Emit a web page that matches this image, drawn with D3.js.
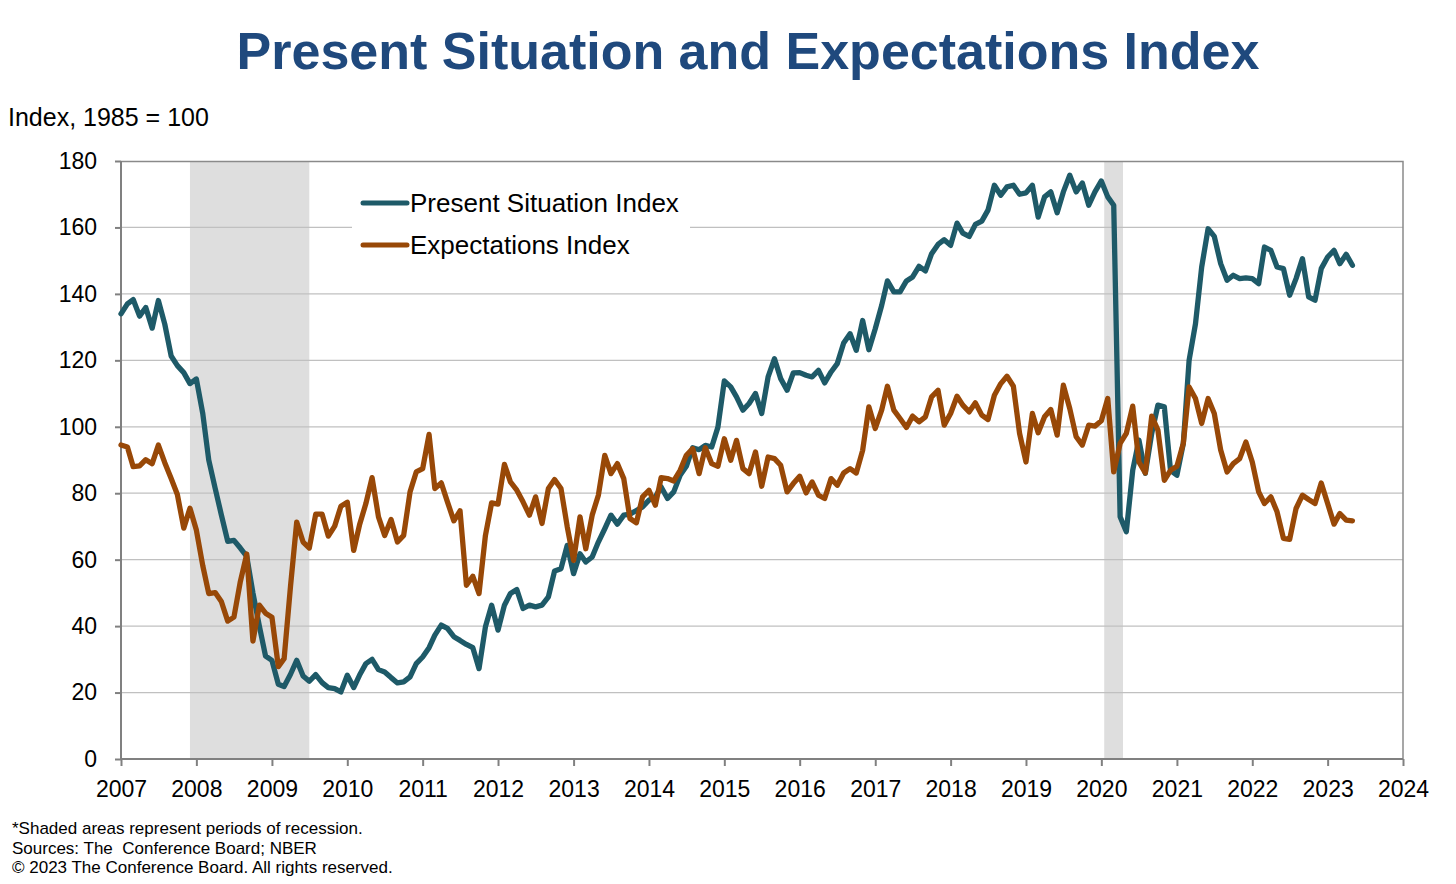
<!DOCTYPE html>
<html>
<head>
<meta charset="utf-8">
<script src="https://cdn.jsdelivr.net/npm/d3@7"></script>
<style>
  body { margin: 0; background: #fff; }
  svg text { font-family: "Liberation Sans", Arial, sans-serif; }
</style>
</head>
<body>
<div id="chart"></div>
<script>
/////////////////////////////////////////////////////////
////////////////////// The data /////////////////////////
/////////////////////////////////////////////////////////

var startMonth = "2007-01";   // first monthly observation

// Present Situation Index, monthly Jan 2007 - May 2023
var presentSituation = [
    134.0, 137.0, 138.3, 133.3, 135.9, 129.7, 138.0, 130.9, 121.3, 118.4, 116.3, 113.0, // 2007
    114.4, 104.0, 90.0, 81.5, 73.5, 65.5, 65.8, 63.5, 61.0, 50.0, 40.0, 31.0,            // 2008
    29.7, 22.5, 21.8, 25.5, 29.7, 25.0, 23.4, 25.4, 23.0, 21.5, 21.2, 20.2,              // 2009
    25.2, 21.5, 25.2, 28.7, 30.0, 26.9, 26.2, 24.5, 22.9, 23.2, 24.7, 28.7,              // 2010
    30.7, 33.5, 37.3, 40.3, 39.3, 36.8, 35.7, 34.5, 33.5, 27.2, 39.8, 46.3,              // 2011
    38.8, 46.3, 49.8, 51.0, 45.3, 46.3, 45.8, 46.3, 48.8, 56.6, 57.3, 64.3,              // 2012
    55.8, 61.8, 59.3, 60.8, 65.3, 69.3, 73.4, 70.7, 73.4, 73.7, 74.8, 75.9,              // 2013
    77.9, 78.9, 81.9, 78.4, 80.4, 85.4, 88.1, 93.7, 93.1, 94.4, 93.9, 99.9,              // 2014
    113.8, 112.0, 109.0, 105.0, 107.0, 110.0, 104.0, 115.0, 120.5, 114.5, 111.0, 116.2,  // 2015
    116.3, 115.5, 115.0, 117.0, 113.2, 116.5, 119.0, 125.2, 128.0, 123.0, 132.0, 123.2,  // 2016
    129.5, 136.5, 143.9, 140.6, 140.6, 143.9, 145.1, 148.3, 146.9, 152.1, 154.9, 156.3,  // 2017
    154.6, 161.3, 158.3, 157.3, 160.9, 161.9, 165.2, 172.7, 169.7, 172.2, 172.7, 170.0,  // 2018
    170.4, 172.7, 163.1, 169.2, 170.7, 164.4, 170.7, 175.7, 170.7, 173.4, 166.7, 170.7,  // 2019
    174.0, 169.2, 166.7, 72.9, 68.4, 86.9, 96.0, 86.0, 98.0, 106.5, 106.0, 86.9,         // 2020
    85.4, 95.0, 120.0, 131.0, 148.1, 159.6, 157.3, 149.1, 144.1, 145.6, 144.6, 144.8,    // 2021
    144.6, 143.1, 154.1, 153.1, 148.1, 147.6, 139.6, 144.6, 150.6, 139.1, 138.1, 147.6,  // 2022
    151.1, 153.1, 149.1, 151.9, 148.6                                                    // 2023
];

// Expectations Index, monthly Jan 2007 - May 2023
var expectations = [
    94.5, 93.9, 88.0, 88.2, 90.1, 88.9, 94.5, 89.2, 84.4, 79.6, 69.5, 75.5,              // 2007
    68.9, 58.2, 49.8, 50.1, 47.4, 41.5, 42.7, 53.4, 61.7, 35.5, 46.3, 43.9,              // 2008
    42.7, 27.8, 30.2, 52.0, 71.3, 65.3, 63.5, 73.7, 73.7, 67.1, 70.1, 76.1,              // 2009
    77.3, 62.8, 70.4, 76.9, 84.7, 72.9, 67.3, 72.1, 65.3, 67.3, 80.4, 86.4,              // 2010
    87.4, 97.7, 81.4, 83.1, 77.4, 71.7, 74.7, 52.3, 55.0, 49.8, 67.3, 77.1,              // 2011
    76.7, 88.7, 83.4, 80.9, 77.4, 73.4, 78.9, 70.9, 81.4, 84.1, 81.4, 70.0,              // 2012
    59.8, 72.9, 63.3, 73.4, 79.4, 91.4, 85.9, 88.9, 84.4, 72.4, 71.1, 78.9,              // 2013
    80.9, 76.4, 84.7, 84.4, 83.7, 86.9, 91.4, 93.4, 85.9, 93.7, 88.9, 88.1,              // 2014
    96.4, 89.9, 95.9, 87.4, 85.9, 92.4, 82.1, 90.9, 90.4, 88.4, 80.4, 82.9,              // 2015
    85.1, 80.1, 83.4, 79.4, 78.4, 84.4, 82.4, 86.1, 87.4, 86.1, 92.9, 106.0,             // 2016
    99.5, 105.0, 112.2, 105.0, 102.5, 99.8, 103.2, 101.5, 103.0, 109.0, 111.0, 100.5,    // 2017
    104.0, 109.2, 106.5, 104.5, 107.2, 103.5, 102.2, 109.5, 113.0, 115.2, 112.2, 98.0,   // 2018
    89.4, 104.0, 98.2, 103.0, 105.2, 97.5, 112.5, 105.5, 97.0, 94.5, 100.5, 100.2,       // 2019
    101.8, 108.5, 86.4, 95.0, 98.0, 106.2, 89.4, 86.1, 103.2, 99.0, 83.9, 86.9,          // 2020
    88.1, 95.0, 112.0, 108.5, 101.0, 108.5, 104.0, 93.0, 86.4, 88.9, 90.4, 95.4,         // 2021
    89.4, 80.4, 76.9, 78.9, 74.4, 66.4, 66.1, 75.4, 79.4, 78.1, 76.9, 83.1,              // 2022
    76.9, 70.7, 73.9, 71.9, 71.7                                                         // 2023
];

var seriesNames = ["Present Situation Index", "Expectations Index"];
var seriesColors = ["#1e5a68", "#984807"];

// NBER recessions (start, end)
var recessions = [["2007-12-01", "2009-07-01"], ["2020-01-15", "2020-04-15"]];

var yearTicks = d3.range(2007, 2025);
var yTicks = [0, 20, 40, 60, 80, 100, 120, 140, 160, 180];

var footnotes = [
    "*Shaded areas represent periods of recession.",
    "Sources: The  Conference Board; NBER",
    "\u00a9 2023 The Conference Board. All rights reserved."
];

/////////////////////////////////////////////////////////
//////////////////// Setup ///////////////////////////////
/////////////////////////////////////////////////////////

var W = 1456, H = 884;
var m = {top: 161, right: 53, bottom: 125, left: 121};
var pw = W - m.left - m.right, ph = H - m.top - m.bottom;

var parseMonth = d3.timeParse("%Y-%m");
var parseDay = d3.timeParse("%Y-%m-%d");
var t0 = parseMonth(startMonth);

function toRows(values) {
    return values.map(function(v, i) { return {date: d3.timeMonth.offset(t0, i), value: v}; });
}
var allSeries = [toRows(presentSituation), toRows(expectations)];

var x = d3.scaleTime()
    .domain([new Date(2007, 0, 1), new Date(2024, 0, 1)])
    .range([0, pw]);
var y = d3.scaleLinear().domain([0, 180]).range([ph, 0]);

var svg = d3.select("#chart").append("svg")
    .attr("width", W)
    .attr("height", H);

//Title
svg.append("text")
    .attr("x", 748).attr("y", 69)
    .attr("text-anchor", "middle")
    .style("font-size", "52px")
    .style("font-weight", "bold")
    .style("fill", "#1f497d")
    .text("Present Situation and Expectations Index");

svg.append("text")
    .attr("x", 8).attr("y", 126)
    .style("font-size", "25px")
    .style("fill", "#000")
    .text("Index, 1985 = 100");

var g = svg.append("g")
    .attr("transform", "translate(" + m.left + "," + m.top + ")");

//Recession shading
g.selectAll(".recession")
    .data(recessions)
    .enter().append("rect")
    .attr("class", "recession")
    .attr("x", function(d) { return x(parseDay(d[0])); })
    .attr("width", function(d) { return x(parseDay(d[1])) - x(parseDay(d[0])); })
    .attr("y", 0)
    .attr("height", ph)
    .style("fill", "#dedede");

//Grid lines
g.selectAll(".grid")
    .data(yTicks.filter(function(d) { return d > 0 && d < 180; }))
    .enter().append("line")
    .attr("class", "grid")
    .attr("x1", 0).attr("x2", pw)
    .attr("y1", function(d) { return y(d); })
    .attr("y2", function(d) { return y(d); })
    .style("stroke", "#c0c0c0")
    .style("stroke-width", 1.2);

//Frame (top and right)
g.append("path")
    .attr("d", "M0,0.5H" + pw + "V" + ph)
    .style("fill", "none")
    .style("stroke", "#8a8a8a")
    .style("stroke-width", 1.5);

//Axes
var yAxis = g.append("g")
    .call(d3.axisLeft(y).tickValues(yTicks).tickSize(6).tickPadding(18));
var xAxis = g.append("g")
    .attr("transform", "translate(0," + ph + ")")
    .call(d3.axisBottom(x)
        .tickValues(yearTicks.map(function(yr) { return new Date(yr, 0, 1); }))
        .tickFormat(d3.timeFormat("%Y"))
        .tickSize(7).tickPadding(15));

[xAxis, yAxis].forEach(function(a) {
    a.selectAll("path, line").style("stroke", "#808080").style("stroke-width", 2);
    a.selectAll("text").style("font-size", "23px").style("fill", "#000")
        .style("font-family", "'Liberation Sans', Arial, sans-serif");
});
xAxis.select(".domain").attr("d", "M0,0H" + pw);
yAxis.select(".domain").attr("d", "M0,0V" + ph);

//Legend
var legend = g.append("g").attr("transform", "translate(231,22)");
legend.append("rect")
    .attr("x", 0).attr("y", 0)
    .attr("width", 338).attr("height", 82)
    .style("fill", "#fff");
var li = legend.selectAll(".entry")
    .data(seriesNames)
    .enter().append("g")
    .attr("transform", function(d, i) { return "translate(0," + (20 + i * 42) + ")"; });
li.append("line")
    .attr("x1", 11).attr("x2", 55)
    .attr("y1", 0).attr("y2", 0)
    .style("stroke", function(d, i) { return seriesColors[i]; })
    .style("stroke-width", 5)
    .style("stroke-linecap", "round");
li.append("text")
    .attr("x", 58).attr("y", 9)
    .style("font-size", "26px")
    .style("fill", "#000")
    .text(function(d) { return d; });

//Lines
var line = d3.line()
    .x(function(d) { return x(d.date); })
    .y(function(d) { return y(d.value); });

g.selectAll(".series")
    .data(allSeries)
    .enter().append("path")
    .attr("class", "series")
    .attr("d", line)
    .style("fill", "none")
    .style("stroke", function(d, i) { return seriesColors[i]; })
    .style("stroke-width", 5.3)
    .style("stroke-linejoin", "round")
    .style("stroke-linecap", "round");

//Footnotes
svg.selectAll(".foot")
    .data(footnotes)
    .enter().append("text")
    .attr("class", "foot")
    .attr("x", 12)
    .attr("y", function(d, i) { return 834 + i * 19.5; })
    .style("font-size", "17px")
    .style("white-space", "pre")
    .style("fill", "#000")
    .text(function(d) { return d; });
</script>
</body>
</html>
